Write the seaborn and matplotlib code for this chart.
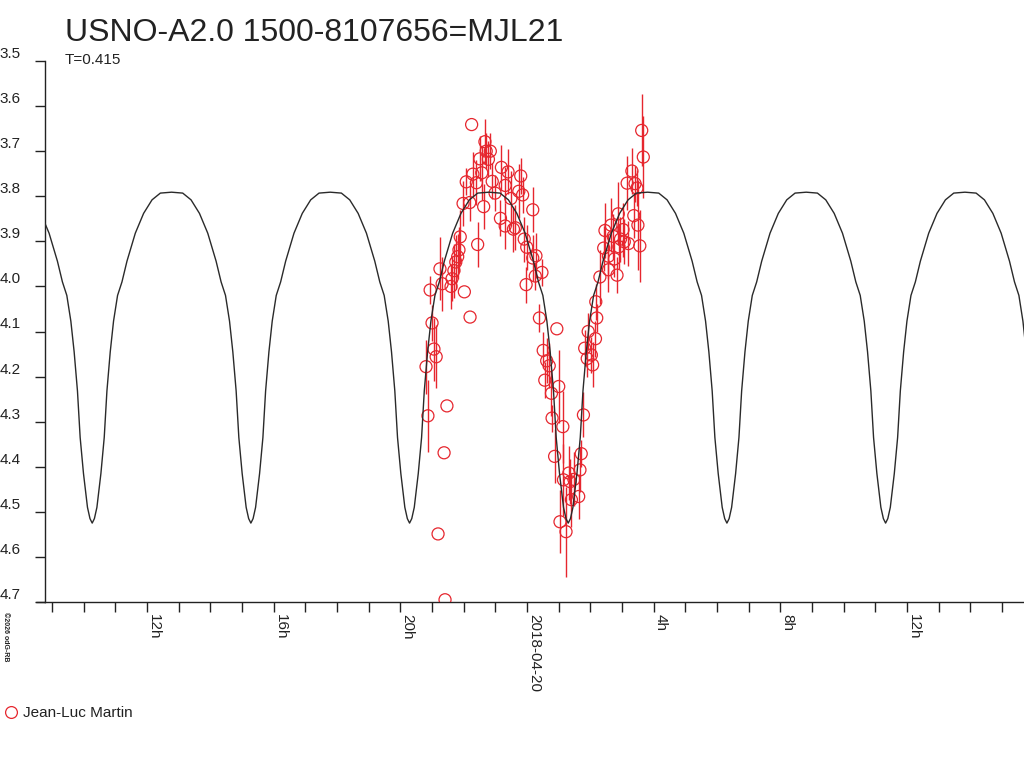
import numpy as np
import pandas as pd
import matplotlib
matplotlib.use("Agg")
import matplotlib.pyplot as plt
from matplotlib.lines import Line2D
import seaborn as sns

# ---------------- data (hours relative to 2018-04-20 00:00, magnitude, error) -------------
hours = [-3.19, -3.13, -3.06, -3.00, -2.94, -2.87, -2.81, -2.75, -2.68, -2.62,
         -2.59, -2.53, -2.40, -2.37, -2.31, -2.25, -2.19, -2.15, -2.11, -2.02,
         -1.98, -1.92, -1.81, -1.80, -1.75, -1.71, -1.60, -1.56, -1.49, -1.43,
         -1.37, -1.33, -1.29, -1.22, -1.16, -1.10, -1.01, -0.84, -0.81, -0.69,
         -0.60, -0.69, -0.51, -0.43, -0.37, -0.26, -0.20, -0.14, -0.09, -0.03,
         -0.01, 0.18, 0.18, 0.26, 0.28, 0.39, 0.47, 0.51, 0.56, 0.62,
         0.70, 0.77, 0.79, 0.87, 0.94, 1.00, 1.04, 1.13, 1.15, 1.23,
         1.32, 1.36, 1.40, 1.48, 1.63, 1.67, 1.71, 1.78, 1.82, 1.90,
         1.93, 2.03, 2.07, 2.16, 2.20, 2.17, 2.30, 2.42, 2.46, 2.57,
         2.57, 2.65, 2.72, 2.76, 2.84, 2.88, 2.90, 2.95, 3.03, 3.07,
         3.16, 3.20, 3.31, 3.37, 3.41, 3.47, 3.50, 3.56, 3.62, 3.67]
mags = [4.178, 4.287, 4.008, 4.081, 4.139, 4.156, 4.549, 3.961, 3.994, 4.369,
        4.695, 4.265, 4.000, 3.983, 3.965, 3.946, 3.934, 3.919, 3.890, 3.816,
        4.012, 3.768, 3.814, 4.068, 3.641, 3.751, 3.770, 3.907, 3.717, 3.748,
        3.823, 3.679, 3.700, 3.718, 3.700, 3.767, 3.793, 3.849, 3.736, 3.776,
        3.746, 3.866, 3.805, 3.873, 3.870, 3.789, 3.755, 3.797, 3.895, 3.996,
        3.913, 3.830, 3.937, 3.977, 3.932, 4.070, 3.969, 4.142, 4.208, 4.165,
        4.176, 4.237, 4.292, 4.377, 4.094, 4.222, 4.522, 4.311, 4.429, 4.544,
        4.414, 4.433, 4.473, 4.428, 4.466, 4.407, 4.371, 4.285, 4.137, 4.160,
        4.100, 4.152, 4.174, 4.116, 4.070, 4.034, 3.979, 3.915, 3.876, 3.933,
        3.963, 3.864, 3.889, 3.939, 3.975, 3.839, 3.912, 3.895, 3.874, 3.901,
        3.771, 3.905, 3.744, 3.843, 3.772, 3.782, 3.864, 3.910, 3.654, 3.713]
errs = [0.06, 0.08, 0.03, 0.04, 0.07, 0.07, 0.0, 0.07, 0.06, 0.0,
        0.0, 0.0, 0.05, 0.05, 0.06, 0.06, 0.05, 0.05, 0.06, 0.05,
        0.0, 0.03, 0.04, 0.0, 0.0, 0.05, 0.05, 0.05, 0.05, 0.06,
        0.05, 0.05, 0.04, 0.04, 0.04, 0.04, 0.04, 0.04, 0.05, 0.04,
        0.05, 0.05, 0.06, 0.05, 0.05, 0.06, 0.04, 0.04, 0.05, 0.04,
        0.05, 0.05, 0.05, 0.03, 0.05, 0.03, 0.03, 0.04, 0.04, 0.05,
        0.05, 0.05, 0.03, 0.06, 0.0, 0.08, 0.07, 0.08, 0.08, 0.10,
        0.06, 0.05, 0.06, 0.06, 0.05, 0.05, 0.03, 0.05, 0.04, 0.04,
        0.04, 0.04, 0.05, 0.04, 0.03, 0.04, 0.06, 0.05, 0.06, 0.05,
        0.05, 0.06, 0.05, 0.04, 0.04, 0.07, 0.05, 0.05, 0.06, 0.05,
        0.06, 0.05, 0.05, 0.05, 0.04, 0.04, 0.10, 0.08, 0.08, 0.09]
observer = "Jean-Luc Martin"

# model light curve: spacing of minima as read from the picture, and the profile of
# one quarter cycle (offset from a minimum in hours -> magnitude)
half_cycle_hours = 5.01
first_min_hour = 1.30
profile_offset_h = [0.0, 0.07, 0.149, 0.275, 0.380, 0.465, 0.570, 0.674, 0.801,
                    0.940, 1.098, 1.361, 1.623, 1.889, 2.152, 2.505]
profile_mag = [4.525, 4.515, 4.490, 4.415, 4.335, 4.232, 4.145, 4.077, 4.020,
               3.990, 3.944, 3.882, 3.838, 3.808, 3.793, 3.791]

title = "USNO-A2.0 1500-8107656=MJL21"
subtitle = "T=0.415"
copyright_txt = "\u00a92026 odG-RB"
major_ticks = [-12, -8, -4, 0, 4, 8, 12]
major_labels = ["12h", "16h", "20h", "2018-04-20", "4h", "8h", "12h"]
minor_ticks = list(range(-15, 16))
y_ticks = [3.5, 3.6, 3.7, 3.8, 3.9, 4.0, 4.1, 4.2, 4.3, 4.4, 4.5, 4.6, 4.7]
x_range = (-15.22, 15.69)
y_range = (4.7, 3.5)

# ---------------- build model curve from profile ----------------
off = np.array(profile_offset_h)
pm = np.array(profile_mag)
mx, my = [], []
for k in range(-4, 5):
    c = first_min_hour + k * half_cycle_hours
    mx.extend(list(c - off[::-1][:-1]) + list(c + off[:-1]))
    my.extend(list(pm[::-1][:-1]) + list(pm[:-1]))
model = pd.DataFrame({"h": mx, "m": my}).sort_values("h")
model = model[(model.h >= x_range[0] - 0.6) & (model.h <= 15.60 + 0.6)]

df = pd.DataFrame({"h": hours, "m": mags, "e": errs})

# ---------------- plot ----------------
sns.set_theme(style="white")
plt.rcParams["font.family"] = ["Liberation Sans", "DejaVu Sans"]
txt_col = "#222222"
red = "#e6262e"

fig = plt.figure(figsize=(10.24, 7.68), dpi=100)
ax = fig.add_axes([45 / 1024, 1 - 602 / 768, 1 - 45 / 1024, (602 - 61) / 768])

ax.vlines(df.h, df.m - df.e, df.m + df.e, color=red, lw=1.0, zorder=2)
sns.scatterplot(data=df, x="h", y="m", ax=ax, marker="o", s=75,
                facecolor="none", edgecolor=red, linewidth=0.9, zorder=3, legend=False)
sns.lineplot(data=model, x="h", y="m", ax=ax, color="#2a2a2a", lw=1.0,
             sort=False, estimator=None, zorder=4)

ax.set_xlim(*x_range)
ax.set_ylim(*y_range)
ax.set_xlabel("")
ax.set_ylabel("")
ax.grid(False)
for s in ["top", "right"]:
    ax.spines[s].set_visible(False)
for s in ["left", "bottom"]:
    ax.spines[s].set_color(txt_col)
    ax.spines[s].set_linewidth(1.0)

ax.set_yticks(y_ticks)
ax.set_yticklabels([f"{v:.1f}" for v in y_ticks], fontsize=11, color=txt_col)
for lbl in ax.get_yticklabels():
    lbl.set_va("bottom")
ax.set_xticks(major_ticks)
ax.set_xticklabels(major_labels, rotation=270, ha="left", va="top", fontsize=11, color=txt_col)
ax.set_xticks(minor_ticks, minor=True)
ax.tick_params(axis="both", which="both", direction="out", length=7, width=1.0,
               color=txt_col, bottom=True, left=True)
ax.tick_params(axis="y", pad=10.5)
ax.tick_params(axis="x", pad=2)

# extend the x axis line to the left, as in the reference
fig.add_artist(Line2D([36 / 1024, 45 / 1024], [1 - 602 / 768] * 2, transform=fig.transFigure,
                      color=txt_col, lw=1.0))

fig.text(65 / 1024, 1 - 41 / 768, title, fontsize=23, color=txt_col, ha="left", va="baseline")
fig.text(65 / 1024, 1 - 64 / 768, subtitle, fontsize=11, color=txt_col, ha="left", va="baseline")
fig.text(5 / 1024, 1 - 612 / 768, copyright_txt, fontsize=5, color=txt_col, rotation=270,
         ha="center", va="top", fontweight="bold")

handle = Line2D([], [], marker="o", ls="none", mfc="none", mec=red, ms=8.5, mew=0.9)
fig.legend([handle], [observer], loc="center left", bbox_to_anchor=(3 / 1024, 1 - 713 / 768),
           frameon=False, borderpad=0, borderaxespad=0, handlelength=1.0,
           handletextpad=0.3, fontsize=11, labelcolor=txt_col)

fig.savefig("out.png", dpi=100)
